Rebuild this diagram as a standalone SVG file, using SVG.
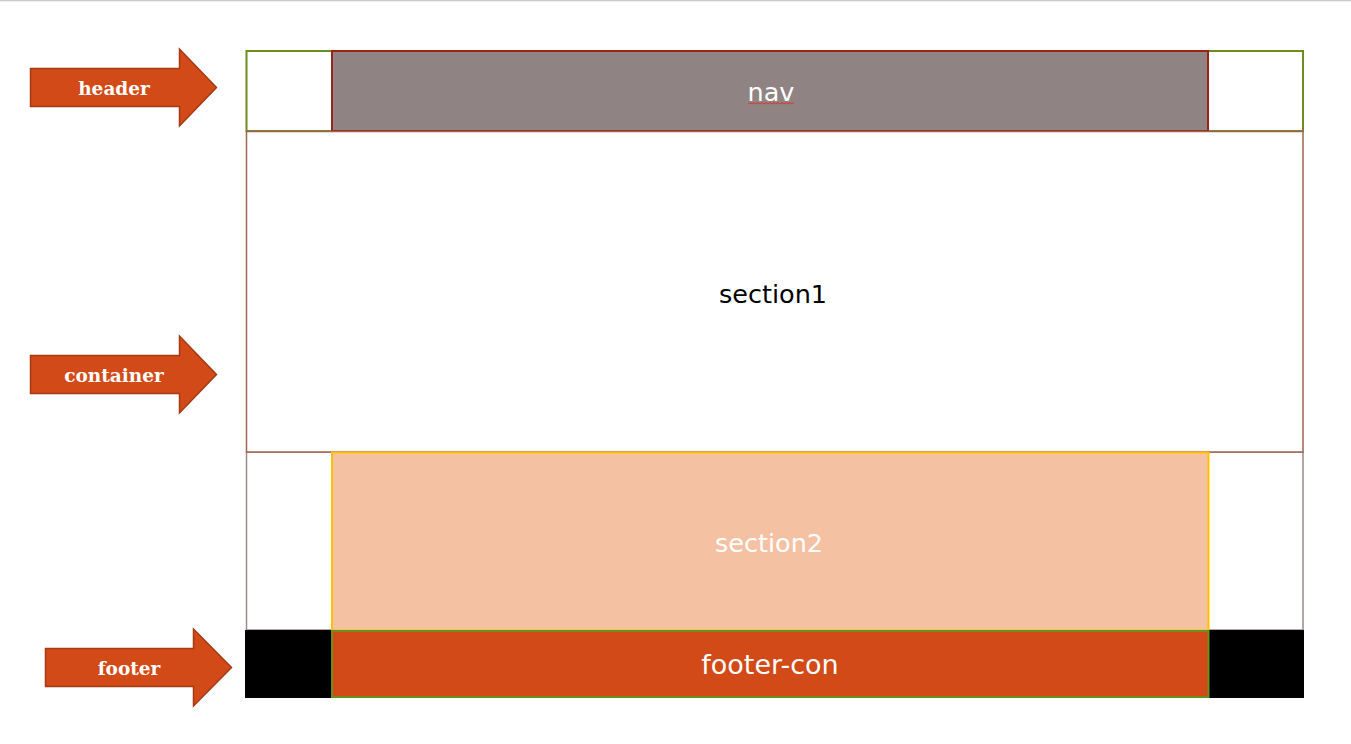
<svg xmlns="http://www.w3.org/2000/svg" width="1351" height="744" viewBox="0 0 1351 744">
<style>
.arrow{fill:#D24A17;stroke:#A53A12;stroke-width:1.5}
.alabel{font-family:"DejaVu Serif",serif;font-size:18.5px;fill:#fff;text-anchor:middle;font-weight:bold}
.lbl{font-family:"DejaVu Sans",sans-serif;font-size:25.5px;text-anchor:middle}
</style>
<rect x="0" y="0" width="1351" height="744" fill="#fff"/>
<line x1="0" y1="0.5" x2="1351" y2="0.5" stroke="#c8c8c8" stroke-width="1.5"/>
<g id="section2-area">
<rect x="246.5" y="452" width="1056.5" height="178" fill="#fff" stroke="#9C8A8A" stroke-width="1.5"/>
</g>
<g id="header">
<rect x="246.5" y="51" width="1056.5" height="80" fill="#fff" stroke="#6B8E1F" stroke-width="2"/>
</g>
<g id="nav">
<rect x="332" y="51" width="876" height="80" fill="#8F8483" stroke="#9B2317" stroke-width="2"/>
<text class="lbl" x="771" y="101" fill="#fff">nav</text>
<path d="M748,104 l2,-1.5 l2,1.5 l2,-1.5 l2,1.5 l2,-1.5 l2,1.5 l2,-1.5 l2,1.5 l2,-1.5 l2,1.5 l2,-1.5 l2,1.5 l2,-1.5 l2,1.5 l2,-1.5 l2,1.5 l2,-1.5 l2,1.5 l2,-1.5 l2,1.5 l2,-1.5 l2,1.5 l2,-1.5" fill="none" stroke="#e0302a" stroke-width="1"/>
</g>
<g id="container">
<rect x="246.5" y="131.5" width="1056.5" height="320.5" fill="#fff" stroke="#9E6350" stroke-width="1.5"/>
<text class="lbl" x="773" y="303" fill="#000">section1</text>
</g>
<g id="section2">
<rect x="332" y="452.5" width="876.5" height="178" fill="#F4C1A3" stroke="#FFC000" stroke-width="2"/>
<text class="lbl" x="769" y="552" fill="#fff">section2</text>
</g>
<g id="footer">
<rect x="245" y="630" width="1059" height="68" fill="#000"/>
</g>
<g id="footer-con">
<rect x="332" y="631" width="876.5" height="66" fill="#D24A17" stroke="#6B8E1F" stroke-width="2"/>
<text class="lbl" x="770" y="674" fill="#fff" style="font-size:27px">footer-con</text>
</g>
<g id="arrows">
<g id="arrow-header">
<polygon class="arrow" points="30.5,68.5 179.5,68.5 179.5,49 216.5,87.5 179.5,126 179.5,106.5 30.5,106.5"/>
<text class="alabel" x="114" y="95">header</text>
</g>
<g id="arrow-container">
<polygon class="arrow" points="30.5,355.5 179.5,355.5 179.5,336 216.5,374.5 179.5,413 179.5,393.5 30.5,393.5"/>
<text class="alabel" x="114" y="382">container</text>
</g>
<g id="arrow-footer">
<polygon class="arrow" points="45.5,648.5 193.5,648.5 193.5,629 231.5,667.5 193.5,706 193.5,686.5 45.5,686.5"/>
<text class="alabel" x="129" y="675">footer</text>
</g>
</g>
</svg>
